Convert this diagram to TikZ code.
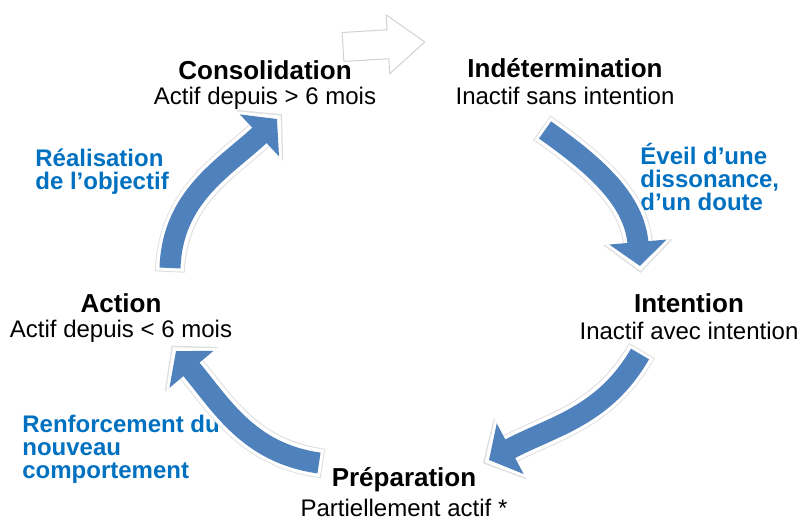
\documentclass[tikz,border=0pt]{standalone}
\usepackage{fontspec}
\setmainfont{Liberation Sans}
\usepackage{tikz}
\usetikzlibrary{positioning, arrows.meta}
\definecolor{stageblue}{HTML}{4F81BD}
\definecolor{noteblue}{HTML}{0070C0}
\tikzstyle{title} = [inner sep=0pt, font=\fontsize{13}{15}\selectfont\bfseries]
\tikzstyle{status} = [inner sep=0pt, font=\fontsize{12}{14}\selectfont]
\tikzstyle{note} = [inner sep=0pt, anchor=west, align=left, text=noteblue, font=\fontsize{12}{11.5}\selectfont\bfseries]
\tikzstyle{halo} = [line width=15pt, draw=gray!25, shorten <=-2pt, shorten >=-3.5pt, -{Triangle[width=34pt,length=15.5pt]}]
\tikzstyle{glow} = [line width=14pt, draw=white, shorten <=-1.5pt, shorten >=-2.5pt, -{Triangle[width=32pt,length=14.5pt]}]
\tikzstyle{bigarrow} = [line width=10.5pt, draw=stageblue, -{Triangle[width=28pt,length=12pt]}]
\tikzstyle{blankarrow} = [draw=gray!35, fill=white, line width=0.5pt, line join=round]

\begin{document}
\begin{tikzpicture}[x=0.5pt, y=0.5pt, node distance=14pt]
    \useasboundingbox (0,0) rectangle (799,520);
    % stages
    \node (1) [title] at (265,450) {Consolidation};
    \node (1s) [status, below of=1] {Actif depuis > 6 mois};
    \node (2) [title] at (565,452) {Indétermination};
    \node (2s) [status, below of=2] {Inactif sans intention};
    \node (3) [title] at (689,217) {Intention};
    \node (3s) [status, below of=3] {Inactif avec intention};
    \node (4) [title] at (404,40) {Préparation};
    \node (4s) [status, below of=4] {Partiellement actif *};
    \node (5) [title] at (121,217) {Action};
    \node (5s) [status, below of=5] {Actif depuis < 6 mois};
    % transitions
    \node (l1) [note] at (35,348.5) {Réalisation\\de l’objectif};
    \node (l2) [note] at (640,343) {Éveil d’une\\dissonance,\\d’un doute};
    \node (l3) [note] at (22,71) {Renforcement du\\nouveau\\comportement};
    % arrow ends
    \coordinate (a1) at (545,390);
    \coordinate (b1) at (640,254);
    \coordinate (a2) at (640,166);
    \coordinate (b2) at (489,60);
    \coordinate (a3) at (319,57);
    \coordinate (b3) at (176,169);
    \coordinate (a4) at (170,252);
    \coordinate (b4) at (277,401);
    \foreach \s in {halo, glow, bigarrow} {
      \draw [\s] (a1) to[out=-35, in=95] (b1);
      \draw [\s] (a2) to[out=240, in=28] (b2);
      \draw [\s] (a3) to[out=172, in=-50] (b3);
      \draw [\s] (a4) to[out=88, in=-137] (b4);
    }
    \draw [blankarrow, shift={(343,473)}, rotate=3.5]
      (0,14.5) -- (45,14.5) -- (45,29.5) -- (82,0) -- (45,-29.5) -- (45,-14.5) -- (0,-14.5) -- cycle;
\end{tikzpicture}
\end{document}
